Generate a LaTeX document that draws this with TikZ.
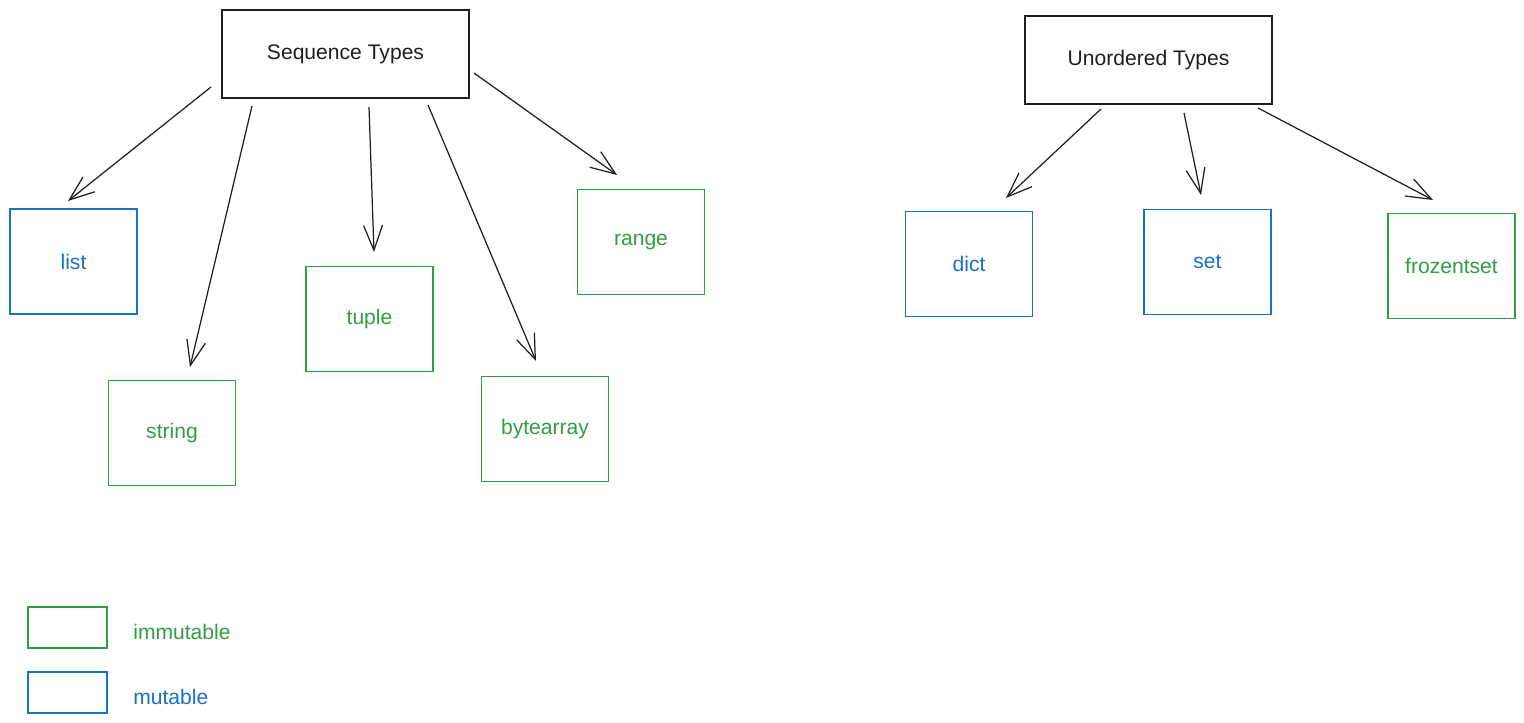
\documentclass[tikz,border=0pt]{standalone}
\usepackage{fontspec}
\setmainfont{Liberation Sans}
\usetikzlibrary{arrows.meta}
\definecolor{inkgreen}{HTML}{2F9E44}
\definecolor{inkblue}{HTML}{1971C2}
\definecolor{ink}{HTML}{1E1E1E}
\tikzset{
  header/.style={draw=ink, line width=1.1pt, minimum width=4.94cm, minimum height=1.76cm,
    inner sep=0pt, font=\fontsize{12}{14}\selectfont, text=ink},
  typebox/.style={line width=0.8pt, minimum width=2.54cm, minimum height=2.1cm,
    inner sep=0pt, font=\fontsize{12}{14}\selectfont},
  immut/.style={typebox, draw=inkgreen, text=inkgreen},
  mut/.style={typebox, draw=inkblue, text=inkblue},
  keybox/.style={line width=0.8pt, minimum width=1.58cm, minimum height=0.82cm, inner sep=0pt},
  keytext/.style={anchor=west, inner sep=0pt, font=\fontsize{12}{14}\selectfont},
  link/.style={draw=ink, line width=0.7pt, -{Straight Barb[length=5mm,width=3.8mm]}}
}
\begin{document}
\begin{tikzpicture}[x=0.02cm,y=-0.02cm]
\useasboundingbox (0,0) rectangle (1524,723);

% category headers
\node[header] (seq) at (345.5,54) {Sequence Types};
\node[header] (unord) at (1148.5,60) {Unordered Types};

% sequence types
\node[mut]   (list)      at (73.5,261.5)  {list};
\node[immut] (string)    at (172,433)     {string};
\node[immut] (tuple)     at (369.5,319)   {tuple};
\node[immut] (bytearray) at (545,429)     {bytearray};
\node[immut] (range)     at (641,242)     {range};

% unordered types
\node[mut]   (dict)       at (969,264)    {dict};
\node[mut]   (set)        at (1207.5,262) {set};
\node[immut] (frozenset)  at (1451.5,266) {frozentset};

% arrow end points, kept clear of the boxes
\coordinate (s1) at (211,87);   \coordinate (e1) at (68,201);
\coordinate (s2) at (252,106);  \coordinate (e2) at (190,367);
\coordinate (s3) at (369,107);  \coordinate (e3) at (374,252);
\coordinate (s4) at (428,105);  \coordinate (e4) at (536,361);
\coordinate (s5) at (474,73);   \coordinate (e5) at (617,175);
\coordinate (u1) at (1101,109); \coordinate (f1) at (1006,198);
\coordinate (u2) at (1184,113); \coordinate (f2) at (1201,195);
\coordinate (u3) at (1258,108); \coordinate (f3) at (1433,200);

\draw[link] (s1) -- (e1);
\draw[link] (s2) -- (e2);
\draw[link] (s3) -- (e3);
\draw[link] (s4) -- (e4);
\draw[link] (s5) -- (e5);
\draw[link] (u1) -- (f1);
\draw[link] (u2) -- (f2);
\draw[link] (u3) -- (f3);

% legend
\node[keybox, draw=inkgreen] (keyimm) at (67.5,627.5) {};
\node[keytext, text=inkgreen] (keyimmtext) at (133,632) {immutable};
\node[keybox, draw=inkblue] (keymut) at (67.5,692.5) {};
\node[keytext, text=inkblue] (keymuttext) at (133,697) {mutable};
\end{tikzpicture}
\end{document}
